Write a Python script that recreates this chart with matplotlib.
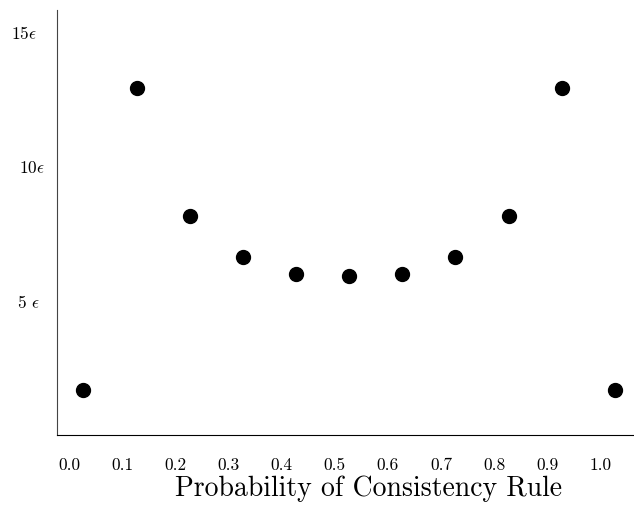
import matplotlib
matplotlib.use("Agg")
import matplotlib.pyplot as plt

plt.rcParams['font.family'] = 'cmr10'
plt.rcParams['mathtext.fontset'] = 'cm'
plt.rcParams['axes.formatter.use_mathtext'] = True

# data
prob = [0.0, 0.1, 0.2, 0.3, 0.4, 0.5, 0.6, 0.7, 0.8, 0.9, 1.0]
cost = [1.68, 12.91, 8.15, 6.62, 5.97, 5.91, 5.97, 6.62, 8.15, 12.91, 1.68]
xtick_labels = ['0.0', '0.1', '0.2', '0.3', '0.4', '0.5', '0.6', '0.7', '0.8', '0.9', '1.0']
ytick_vals = [5, 10, 15]
ytick_labels = [r'5 $\epsilon$', r'10$\epsilon$', r'15$\epsilon$']

fig = plt.figure(figsize=(6.34, 5.14), dpi=100)
ax = fig.add_axes([0.0904, 0.1537, 0.9096, 0.8268])

ax.plot(prob, cost, 'o', color='black', markersize=10)

ax.set_xlim(-0.049, 1.036)
ax.set_ylim(0, 15.8)

# labels sit a little left of the points in the original
ax.set_xticks([p - 0.027 for p in prob])
ax.set_xticklabels(xtick_labels, fontsize=12.5)
ax.set_yticks(ytick_vals)
ax.set_yticklabels(ytick_labels, fontsize=12.5)
ax.tick_params(length=0)
ax.tick_params(axis='x', pad=16)
pads = [12.5, 8.9, 14.6]
for t, p in zip(ax.yaxis.get_major_ticks(), pads):
    t.set_pad(p)

for s in ['top', 'right']:
    ax.spines[s].set_visible(False)
ax.spines['left'].set_color('#444444')
ax.spines['bottom'].set_color('black')

ax.set_xlabel('Probability of Consistency Rule', fontsize=20)
ax.xaxis.set_label_coords(0.540, -0.095)

fig.savefig('out.png', dpi=100)
